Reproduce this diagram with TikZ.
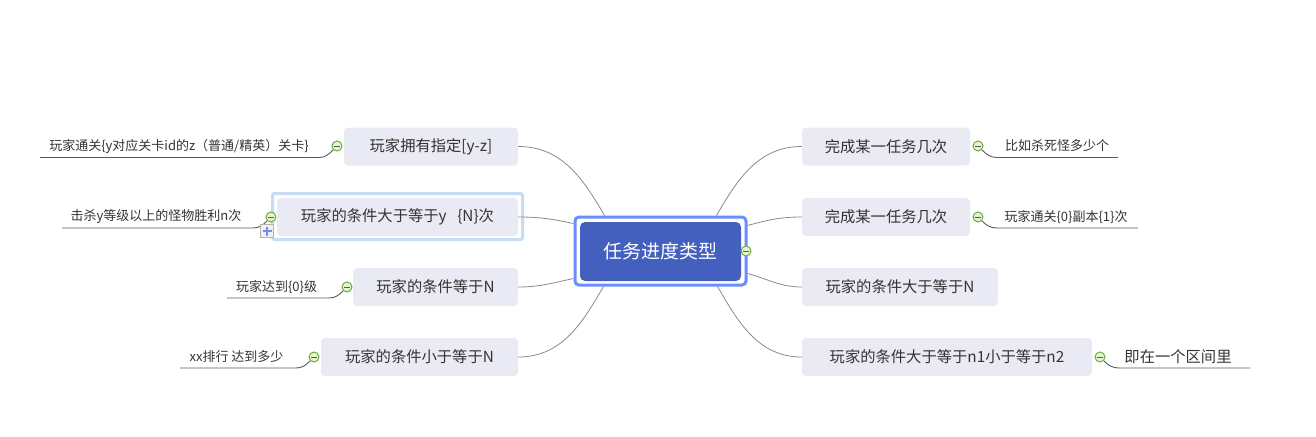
\documentclass[tikz,border=0pt]{standalone}
\usepackage{fontspec}
\setmainfont{Noto Sans CJK SC}
\usepackage{tikz}
\definecolor{topicfill}{HTML}{E9EAF3}
\definecolor{rootfill}{HTML}{4360BE}
\definecolor{rootframe}{HTML}{6C8CFF}
\definecolor{selframe}{HTML}{C6DBF4}
\definecolor{linkgray}{HTML}{8A8A8A}
\definecolor{notegray}{HTML}{5A5A5A}
\definecolor{txtgray}{HTML}{333333}
\definecolor{foldgreen}{HTML}{6AAE3A}
\definecolor{foldfill}{HTML}{E6F4D6}
\definecolor{plusblue}{HTML}{6C8CFF}
\tikzset{
  topic/.style={fill=topicfill, rounded corners=4pt, minimum height=38, inner sep=0,
    text=txtgray, font=\fontsize{15.3}{17}\selectfont},
  root/.style={fill=rootfill, rounded corners=5pt, inner sep=0, text=white,
    font=\fontsize{19}{21}\selectfont},
  rootbox/.style={draw=rootframe, line width=3pt, rounded corners=4pt, inner sep=0},
  selbox/.style={draw=selframe, line width=3pt, rounded corners=2pt, inner sep=0},
  link/.style={draw=linkgray, line width=0.8pt},
  note/.style={inner sep=0, text=txtgray, font=\fontsize{13}{15}\selectfont},
  noteline/.style={draw=notegray, line width=0.9pt},
  fold/.style={circle, draw=foldgreen, fill=foldfill, minimum size=10, inner sep=0, line width=1pt,
    path picture={\draw[notegray, line width=1pt]
      ([xshift=-2.8pt]path picture bounding box.center) -- ([xshift=2.8pt]path picture bounding box.center);}},
  plusbox/.style={draw=gray!60, fill=gray!12, minimum size=13, inner sep=0,
    path picture={\draw[plusblue, line width=2pt]
      ([xshift=-4.5pt]path picture bounding box.center) -- ([xshift=4.5pt]path picture bounding box.center)
      ([yshift=-4.5pt]path picture bounding box.center) -- ([yshift=4.5pt]path picture bounding box.center);}},
}

\begin{document}
\begin{tikzpicture}[x=1pt,y=-1pt]
\useasboundingbox (0,0) rectangle (1316,436);

% root
\node[rootbox, minimum width=171, minimum height=68] (frame) at (660.5,251) {};
\node[root, minimum width=161, minimum height=59] (task) at (660.5,251.5) {任务进度类型};

% right topics
\node[topic, minimum width=168] (r1) at (886,146.5) {完成某一任务几次};
\node[topic, minimum width=168] (r2) at (886,217) {完成某一任务几次};
\node[topic, minimum width=196] (r3) at (900,287) {玩家的条件大于等于N};
\node[topic, minimum width=290] (r4) at (947,357) {玩家的条件大于等于n1小于等于n2};

% left topics
\node[topic, minimum width=174] (l1) at (431,146.5) {玩家拥有指定[y-z]};
\node[selbox, minimum width=250, minimum height=46] (sel) at (397.5,216.5) {};
\node[topic, minimum width=241] (l2) at (397.5,217) {玩家的条件大于等于y\hspace{0.7em}\{N\}次};
\node[topic, minimum width=165] (l3) at (435.5,287) {玩家的条件等于N};
\node[topic, minimum width=197] (l4) at (419.5,357) {玩家的条件小于等于N};

\draw[link] ([xshift=31pt]frame.north west) to[out=120,in=0] (l1.east);
\draw[link] ([yshift=-8pt]frame.north west) to[out=168,in=0] (l2.east);
\draw[link] ([yshift=8pt]frame.south west) to[out=192,in=0] (l3.east);
\draw[link] ([xshift=30pt]frame.south west) to[out=240,in=0] (l4.east);
\draw[link] ([xshift=-31pt]frame.north east) to[out=60,in=180] (r1.west);
\draw[link] ([yshift=-10pt]frame.north east) to[out=15,in=180] (r2.west);
\draw[link] ([yshift=13pt]frame.south east) to[out=-15,in=180] (r3.west);
\draw[link] ([xshift=-30pt]frame.south east) to[out=-60,in=180] (r4.west);

\node[fold] (ftask) at (746,251) {};

% right notes
\node[fold] (fr1) at (978,146) {};
\node[note] (nr1) at (1057,146) {比如杀死怪多少个};
\coordinate (ur1a) at (997,157.5);
\coordinate (ur1b) at (1118,157.5);
\draw[noteline] (fr1.south east) to[out=-45,in=180] (ur1a) -- (ur1b);

\node[fold] (fr2) at (978,217) {};
\node[note] (nr2) at (1066,217) {玩家通关\{0\}副本\{1\}次};
\coordinate (ur2a) at (997,228);
\coordinate (ur2b) at (1138,228);
\draw[noteline] (fr2.south east) to[out=-45,in=180] (ur2a) -- (ur2b);

\node[fold] (fr4) at (1100,357) {};
\node[note, font=\fontsize{15.3}{17}\selectfont] (nr4) at (1178,357) {即在一个区间里};
\coordinate (ur4a) at (1119,368);
\coordinate (ur4b) at (1250,368);
\draw[noteline] (fr4.south east) to[out=-45,in=180] (ur4a) -- (ur4b);

% left notes
\node[fold] (fl1) at (337,146) {};
\node[note] (nl1) at (179,146) {玩家通关\{y对应关卡id的z（普通/精英）关卡\}};
\coordinate (ul1a) at (319,157.5);
\coordinate (ul1b) at (40,157.5);
\draw[noteline] (fl1.south west) to[out=-135,in=0] (ul1a) -- (ul1b);

\node[fold] (fl2) at (271,217) {};
\node[note] (nl2) at (156,217) {击杀y等级以上的怪物胜利n次};
\coordinate (ul2a) at (253,228);
\coordinate (ul2b) at (62,228);
\draw[noteline] (fl2.south west) to[out=-135,in=0] (ul2a) -- (ul2b);
\node[plusbox] (plus) at (267,231) {};

\node[fold] (fl3) at (347,287) {};
\node[note] (nl3) at (276.5,287) {玩家达到\{0\}级};
\coordinate (ul3a) at (329,298);
\coordinate (ul3b) at (227,298);
\draw[noteline] (fl3.south west) to[out=-135,in=0] (ul3a) -- (ul3b);

\node[fold] (fl4) at (314,357) {};
\node[note] (nl4) at (236.5,357) {xx排行 达到多少};
\coordinate (ul4a) at (296,368);
\coordinate (ul4b) at (180,368);
\draw[noteline] (fl4.south west) to[out=-135,in=0] (ul4a) -- (ul4b);
\end{tikzpicture}
\end{document}
